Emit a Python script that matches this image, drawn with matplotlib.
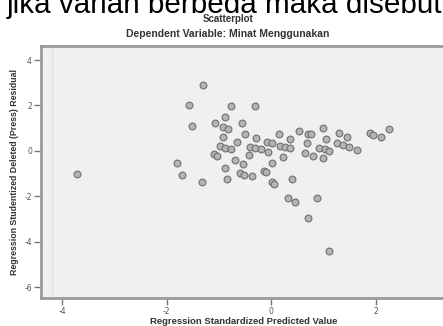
import matplotlib
matplotlib.use("Agg")
import matplotlib.pyplot as plt
import numpy as np

W, H = 443, 326

# Pixel positions, converted to data below
px_x = [77, 203, 189, 231, 255, 225, 215, 242, 192, 223, 228, 245, 223, 256, 237, 220, 225, 231,
        214, 217, 250, 255, 261, 249, 235, 243, 177, 182, 202, 225, 227, 240, 244, 252, 264, 266,
        267, 272, 268, 279, 290, 280, 285, 290, 283, 272, 272, 274, 292, 288, 295, 317, 308, 329,
        299, 308, 311, 307, 305, 313, 323, 326, 319, 325, 329, 323, 339, 347, 337, 343, 349, 357,
        370, 373, 381, 389]
px_y = [174, 85, 105, 106, 106, 117, 123, 123, 126, 127, 129, 134, 137, 138, 142, 146, 148, 149,
        154, 156, 147, 148, 149, 155, 160, 164, 163, 175, 182, 168, 179, 173, 175, 176, 171, 172,
        142, 143, 152, 134, 139, 146, 147, 148, 157, 163, 182, 184, 179, 198, 202, 198, 218, 251,
        131, 134, 134, 143, 153, 156, 128, 139, 148, 149, 151, 158, 133, 137, 143, 145, 147, 150,
        133, 135, 137, 129]

# data values (standardized predicted value, studentized deleted residual)
pred_value = [round(-4 + (p - 62) / 52.25, 2) for p in px_x]
resid_value = [round((151 - p) / 22.7, 2) for p in px_y]

x_ticks = [-4, -2, 0, 2]
y_ticks = [4, 2, 0, -2, -4, -6]

fig = plt.figure(figsize=(W / 100, H / 100), dpi=100)
fig.patch.set_facecolor("white")

left, top, bottom, right = 41, 46, 298, 470
ax = fig.add_axes([left / W, 1 - bottom / H, (right - left) / W, (bottom - top) / H])
ax.set_facecolor("#f0f0f0")
xmin = -4 - (62 - left) / 52.25
xmax = xmin + (right - left) / 52.25
ymax = 4 + (60 - top) / 22.7
ymin = -6 - (bottom - 287) / 22.7
ax.set_xlim(xmin, xmax)
ax.set_ylim(ymin, ymax)

for s in ax.spines.values():
    s.set_color("#9a9a9a")
    s.set_linewidth(2.0)

# faint inner frame line
ax.axvline(xmin + 11 / 52.25, color="#e2e2e2", lw=1.0, zorder=1)

ax.scatter(pred_value, resid_value, s=24, facecolor="#b4b4b4", edgecolor="#707070",
           linewidth=0.8, zorder=3)

ax.set_xticks(x_ticks)
ax.set_yticks(y_ticks)
ax.set_xticklabels([str(t) for t in x_ticks], fontsize=5.5, color="#555555")
ax.set_yticklabels([str(t) for t in y_ticks], fontsize=5.5, color="#555555")
ax.tick_params(axis="both", length=5, width=1.0, color="#777777", pad=1.5)

fig.text(7 / W, 1 - 13 / H, "jika varian berbeda maka disebut", fontsize=21.3,
         family="Liberation Sans", va="baseline", ha="left", color="black")
fig.text(228 / W, 1 - 19 / H, "Scatterplot", fontsize=7.0, fontweight="bold",
         family="Liberation Sans", ha="center", va="center", color="#333333")
fig.text(228 / W, 1 - 34 / H, "Dependent Variable: Minat Menggunakan", fontsize=7.5,
         fontweight="bold", family="Liberation Sans", ha="center", va="center", color="#333333")
fig.text(15 / W, 1 - 172 / H, "Regression Studentized Deleted (Press) Residual", fontsize=6.3,
         fontweight="bold", family="Liberation Sans", ha="center", va="center",
         rotation=90, color="#333333")
fig.text(244 / W, 1 - 322 / H, "Regression Standardized Predicted Value", fontsize=6.8,
         fontweight="bold", family="Liberation Sans", ha="center", va="center", color="#333333")

fig.savefig("out.png", dpi=100)
